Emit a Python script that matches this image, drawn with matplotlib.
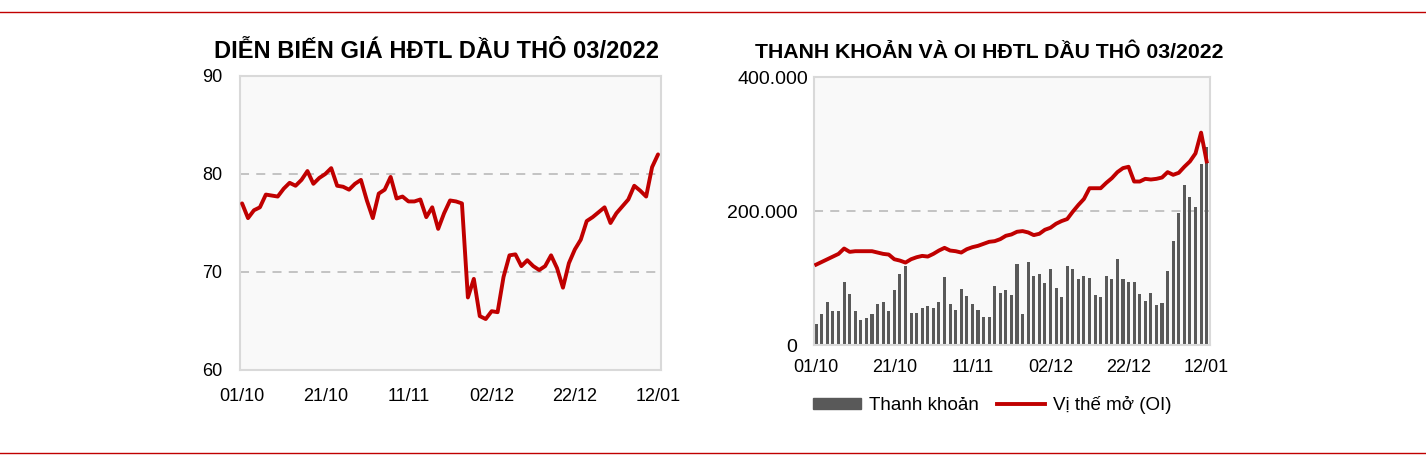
import numpy as np
import matplotlib
matplotlib.use('Agg')
import matplotlib.pyplot as plt
import matplotlib.transforms as mtransforms
from matplotlib.lines import Line2D
from matplotlib.patches import Rectangle

plt.rcParams['font.family'] = ['Liberation Sans', 'DejaVu Sans']

# Gia HDTL dau tho 03/2022 (USD/thung)
gia = [77.0, 75.5, 76.3, 76.6, 77.9, 77.8, 77.7, 78.5, 79.1, 78.8,
       79.4, 80.3, 79.0, 79.6, 80.0, 80.6, 78.8, 78.7, 78.4, 79.0,
       79.4, 77.3, 75.5, 78.0, 78.4, 79.7, 77.5, 77.7, 77.2, 77.2,
       77.4, 75.6, 76.6, 74.4, 76.0, 77.3, 77.2, 77.0, 67.4, 69.3,
       65.5, 65.2, 66.0, 65.9, 69.5, 71.7, 71.8, 70.6, 71.2, 70.6,
       70.2, 70.6, 71.7, 70.4, 68.4, 70.9, 72.3, 73.3, 75.2, 75.6,
       76.1, 76.6, 75.0, 76.0, 76.7, 77.4, 78.8, 78.3, 77.7, 80.7,
       82.0]

# Thanh khoan (nghin hop dong)
thanh_khoan = [31, 46, 64, 51, 51, 94, 76, 51, 37, 40,
               46, 61, 64, 51, 82, 106, 118, 48, 48, 55,
               58, 55, 64, 101, 61, 52, 84, 73, 61, 52,
               42, 42, 88, 78, 82, 75, 121, 46, 124, 103,
               106, 93, 113, 85, 72, 118, 113, 98, 103, 100,
               75, 72, 103, 98, 128, 98, 94, 94, 76, 66,
               78, 60, 63, 111, 155, 197, 239, 221, 206, 270,
               296]
thanh_khoan = [v * 1000 for v in thanh_khoan]

# Vi the mo (OI, nghin hop dong)
oi = [120, 124, 128, 132, 136, 144, 139, 140, 140, 140,
      140, 138, 136, 135, 128, 126, 123, 128, 131, 133,
      132, 136, 141, 145, 141, 140, 138, 143, 146, 148,
      151, 154, 155, 158, 163, 165, 169, 170, 168, 164,
      166, 172, 175, 181, 185, 188, 199, 209, 218, 234,
      234, 234, 242, 249, 258, 264, 266, 244, 244, 248,
      247, 248, 250, 258, 254, 257, 266, 274, 286, 317,
      274]
oi = [v * 1000 for v in oi]

nhan_ngay = ['01/10', '21/10', '11/11', '02/12', '22/12', '12/01']
vi_tri_nhan = [0, 14, 28, 42, 56, 70]

do = '#C00000'
xam_bar = '#595959'

fig = plt.figure(figsize=(14.26, 4.62), dpi=100)

# duong ke do tren va duoi
fig.add_artist(Line2D([0, 1], [1 - 12 / 462, 1 - 12 / 462], color=do, lw=1.0))
fig.add_artist(Line2D([0, 1], [1 - 453 / 462, 1 - 453 / 462], color=do, lw=1.0))


def style_axes(ax, size):
    ax.set_facecolor('#F9F9F9')
    for s in ax.spines.values():
        s.set_color('#D9D9D9')
        s.set_linewidth(1.5)
    ax.tick_params(length=0, labelsize=size, colors='black')


# ---- bieu do gia ----
ax1 = fig.add_axes([240 / 1426, 1 - 370 / 462, 421 / 1426, 294 / 462])
style_axes(ax1, 13)
x = np.arange(len(gia))
ax1.plot(x, gia, color=do, lw=2.8, solid_joinstyle='round', solid_capstyle='round', zorder=3)
ax1.set_ylim(60, 90)
ax1.set_yticks([60, 70, 80, 90])
ax1.set_xlim(-0.35, 70.5)
ax1.set_xticks(vi_tri_nhan)
ax1.set_xticklabels(nhan_ngay)
ax1.tick_params(axis='x', pad=13)
ax1.tick_params(axis='y', pad=13)
for yv in [70, 80]:
    ax1.axhline(yv, color='#BFBFBF', lw=1.3, ls=(0, (5, 4)), zorder=1)
fig.text(437 / 1426, 1 - 52 / 462, 'DIỄN BIẾN GIÁ HĐTL DẦU THÔ 03/2022',
         ha='center', va='center', fontsize=17, fontweight='bold')

# ---- bieu do thanh khoan va OI ----
ax2 = fig.add_axes([814 / 1426, 1 - 345 / 462, 396 / 1426, 268 / 462])
style_axes(ax2, 13)
x2 = np.arange(len(thanh_khoan))
ax2.bar(x2, thanh_khoan, width=0.55, color=xam_bar, zorder=2, label='Thanh khoản')
ax2.plot(x2, oi, color=do, lw=2.8, solid_joinstyle='round', zorder=3, label='Vị thế mở (OI)')
ax2.axhline(200000, color='#BFBFBF', lw=1.3, ls=(0, (5, 4)), zorder=1)
ax2.set_ylim(0, 400000)
ax2.set_yticks([0, 200000, 400000])
ax2.set_yticklabels(['0', '200.000', '400.000'])
ax2.set_xlim(-0.4, 70.6)
ax2.set_xticks(vi_tri_nhan)
ax2.set_xticklabels(nhan_ngay)
ax2.tick_params(axis='x', pad=10)
ax2.tick_params(axis='y', pad=12, labelsize=14)
# nhan tren cung hoi lech sang phai nhu ban goc
nhan_tren = ax2.yaxis.get_major_ticks()[-1].label1
nhan_tren.set_transform(nhan_tren.get_transform() +
                        mtransforms.ScaledTranslation(11 / 100, 0, fig.dpi_scale_trans))
fig.text(989 / 1426, 1 - 52 / 462, 'THANH KHOẢN VÀ OI HĐTL DẦU THÔ 03/2022',
         ha='center', va='center', fontsize=15.3, fontweight='bold')

fig.legend(handles=[Rectangle((0, 0), 1, 1, color=xam_bar),
                    Line2D([0], [0], color=do, lw=2.8)],
           labels=['Thanh khoản', 'Vị thế mở (OI)'],
           loc='center', bbox_to_anchor=(992 / 1426, 1 - 405 / 462),
           ncol=2, frameon=False, fontsize=13.5, handlelength=2.6, handleheight=0.5,
           columnspacing=0.95, handletextpad=0.4)

fig.savefig('out.png', dpi=100)
